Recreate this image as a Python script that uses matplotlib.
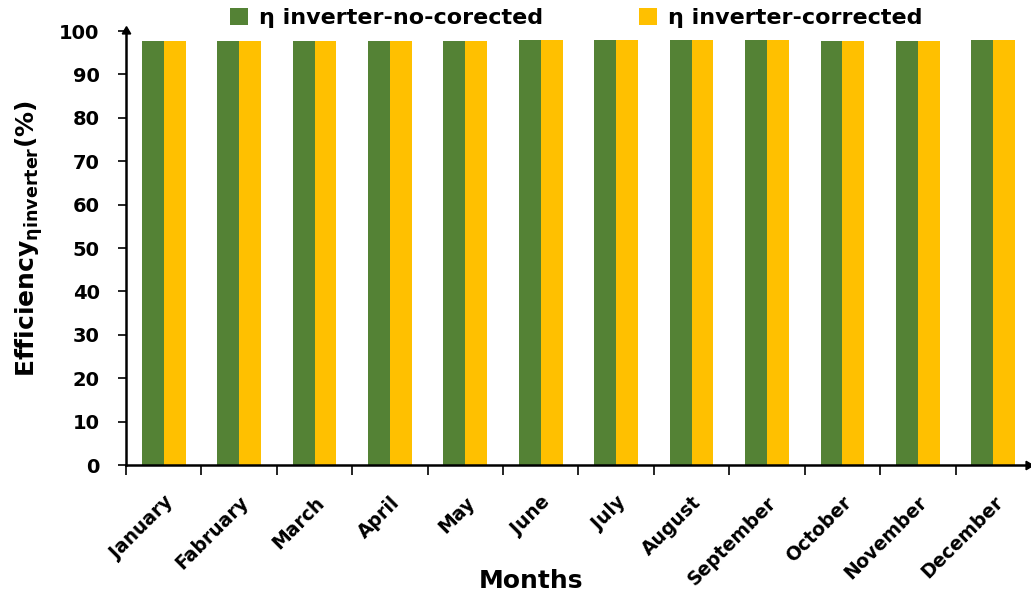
import numpy as np
import matplotlib.pyplot as plt

months = ["January", "Fabruary", "March", "April", "May", "June",
          "July", "August", "September", "October", "November", "December"]
eta_no_corrected = [97.7, 97.7, 97.7, 97.7, 97.7, 97.9,
                    97.9, 97.9, 97.9, 97.7, 97.7, 97.9]
eta_corrected = [97.7, 97.7, 97.7, 97.7, 97.7, 97.9,
                 97.9, 97.9, 97.9, 97.7, 97.7, 97.9]
yticks = [0, 10, 20, 30, 40, 50, 60, 70, 80, 90, 100]

green = "#548235"
yellow = "#FFC000"

plt.rcParams["font.family"] = "DejaVu Sans"
plt.rcParams["mathtext.fontset"] = "dejavusans"

fig = plt.figure(figsize=(10.31, 5.97), dpi=100)
ax = fig.add_axes([0.1222, 0.2211, 0.8778, 0.7269])

x = np.arange(len(months))
w = 0.29
ax.bar(x - w / 2, eta_no_corrected, w, color=green, label="η inverter-no-corected")
ax.bar(x + w / 2, eta_corrected, w, color=yellow, label="η inverter-corrected")

ax.set_xlim(-0.5, len(months) - 0.5)
ax.set_ylim(0, 100)
ax.set_yticks(yticks)
ax.set_yticklabels([str(v) for v in yticks], fontsize=14, fontweight="bold")
ax.tick_params(axis="y", length=6, width=1.2, pad=13)

# group labels sit at bar centres, tick marks sit between groups
ax.set_xticks(x)
ax.set_xticklabels(months, rotation=45, ha="right", rotation_mode="anchor",
                   fontsize=13.5, fontweight="bold")
ax.tick_params(axis="x", which="major", length=0, pad=20)
ax.set_xticks(np.arange(-0.5, len(months) - 0.5, 1.0), minor=True)
ax.tick_params(axis="x", which="minor", length=7, width=1.2)

for s in ["top", "right"]:
    ax.spines[s].set_visible(False)
for s in ["left", "bottom"]:
    ax.spines[s].set_linewidth(1.8)

# arrow heads on the axes
ax.plot(0, 1.0, marker=(3, 0, 0), markersize=7, color="black",
        transform=ax.transAxes, clip_on=False)
ax.plot(0.997, 0, marker=(3, 0, -90), markersize=7, color="black",
        transform=ax.transAxes, clip_on=False)

ax.set_xlabel("Months", fontsize=18, fontweight="bold", va="center")
ax.xaxis.set_label_coords(0.448, -0.268)
ax.set_ylabel(r"Efficiency$_{\mathbf{\eta inverter}}$(%)", fontsize=18,
              fontweight="bold", va="center")
ax.yaxis.set_label_coords(-0.107, 0.523)

fig.legend(loc="upper left", bbox_to_anchor=(0.204, 1.02), ncol=2,
           frameon=False, prop={"weight": "bold", "size": 16},
           handlelength=0.8, handleheight=0.8, columnspacing=4.3,
           handletextpad=0.5)

fig.savefig("out.png", dpi=100)
